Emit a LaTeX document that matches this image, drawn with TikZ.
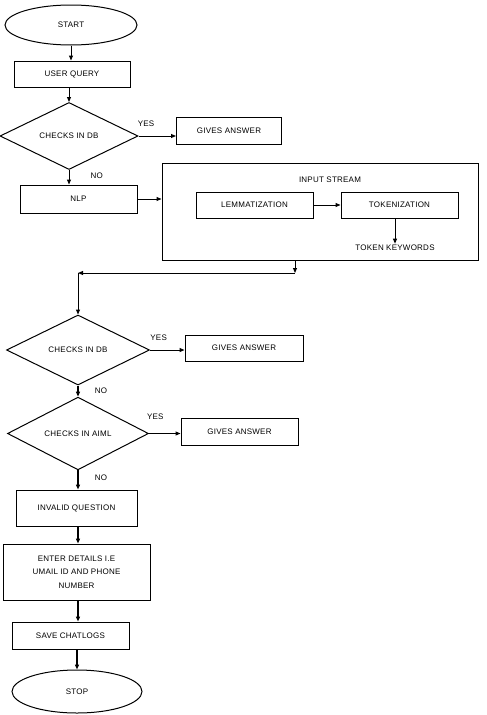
\documentclass[tikz,border=0pt]{standalone}
\usepackage{fontspec}
\setmainfont{Liberation Sans}[LetterSpace=3]
\usetikzlibrary{positioning,arrows.meta,shapes.geometric}

\begin{document}
\begin{tikzpicture}[x=1pt,y=-1pt,>={Triangle[length=5pt,width=4pt]},
  font=\fontsize{8}{13.5}\selectfont,line width=1pt]
\tikzset{
  every node/.style={align=center,inner sep=1pt},
  proc/.style={draw,minimum height=26pt},
  term/.style={draw,ellipse,minimum width=132pt,minimum height=40pt},
  test/.style={draw,diamond,inner sep=0pt},
  bold/.style={line width=1.6pt},
}
\useasboundingbox (0,0) rectangle (487,715);
\node[term] (start) at (71,25) {START};
\node[proc,minimum width=116pt] (query) at (72,74) {USER QUERY};
\node[test,minimum width=138pt,minimum height=67pt] (db1) at (69,136) {CHECKS IN DB};
\node[proc,minimum width=105pt,minimum height=27pt] (ans1) at (229,130.5) {GIVES ANSWER};
\node[proc,minimum width=117pt,minimum height=28pt] (nlp) at (78.5,199) {NLP};
\node[draw,minimum width=316pt,minimum height=97pt] (stream) at (320,211.5) {};
\node (streamlbl) at (330,180) {INPUT STREAM};
\node[proc,minimum width=117pt] (lem) at (254.5,205) {LEMMATIZATION};
\node[proc,minimum width=117pt] (tok) at (399.5,205) {TOKENIZATION};
\node (kw) at (395,248) {TOKEN KEYWORDS};
\coordinate (turnA) at (295,273);
\coordinate (turnB) at (78,273);
\node[test,minimum width=143pt,minimum height=70pt] (db2) at (78,350) {CHECKS IN DB};
\node[proc,minimum width=118pt] (ans2) at (244,348) {GIVES ANSWER};
\node[test,minimum width=141pt,minimum height=63pt] (aiml) at (78,433.5) {CHECKS IN AIML};
\node[proc,minimum width=117pt,minimum height=27pt] (ans3) at (239.5,431.5) {GIVES ANSWER};
\node[proc,minimum width=121pt,minimum height=36pt] (invalid) at (76.5,508) {INVALID QUESTION};
\node[proc,minimum width=147pt,minimum height=56pt] (details) at (76.5,572) {ENTER DETAILS I.E\\UMAIL ID AND PHONE\\NUMBER};
\node[proc,minimum width=117pt,minimum height=27pt] (save) at (70.5,635.5) {SAVE CHATLOGS};
\node[term,minimum width=130pt,minimum height=43pt] (stop) at (77,691.5) {STOP};
% top part
\draw[->] (start) -- (start.south |- query.north);
\draw[->] (query.south -| db1.north) -- (db1.north);
\draw[->] (db1.east) -- (db1.east -| ans1.west) node[pos=0.2,above=8pt] {YES};
\draw[->] (db1.south) -- (db1.south |- nlp.north) node[pos=0.4,right=20pt] {NO};
\draw[->] (nlp.east) -- (nlp.east -| stream.west);
\draw[->] (lem) -- (tok);
\draw[->] (tok.south -| kw.north) -- (kw.north);
% back to the left
\draw[->] (stream.south -| turnA) -- (turnA);
\draw[->] (turnA) -- (turnB);
\draw[->] (turnB) -- (db2.north);
% lower part
\draw[->] (db2.east) -- (db2.east -| ans2.west) node[pos=0.25,above=8pt] {YES};
\draw[->,bold] (db2.south) -- (aiml.north) node[pos=0.45,right=15pt] {NO};
\draw[->] (aiml.east) -- (aiml.east -| ans3.west) node[pos=0.2,above=12pt] {YES};
\draw[->,bold] (aiml.south) -- (aiml.south |- invalid.north) node[pos=0.4,right=15pt] {NO};
\draw[->,bold] (invalid.south -| aiml.south) -- (aiml.south |- details.north);
\draw[->,bold] (details.south -| aiml.south) -- (aiml.south |- save.north);
\draw[->,bold] (save.south -| stop.north) -- (stop.north);
\end{tikzpicture}
\end{document}
